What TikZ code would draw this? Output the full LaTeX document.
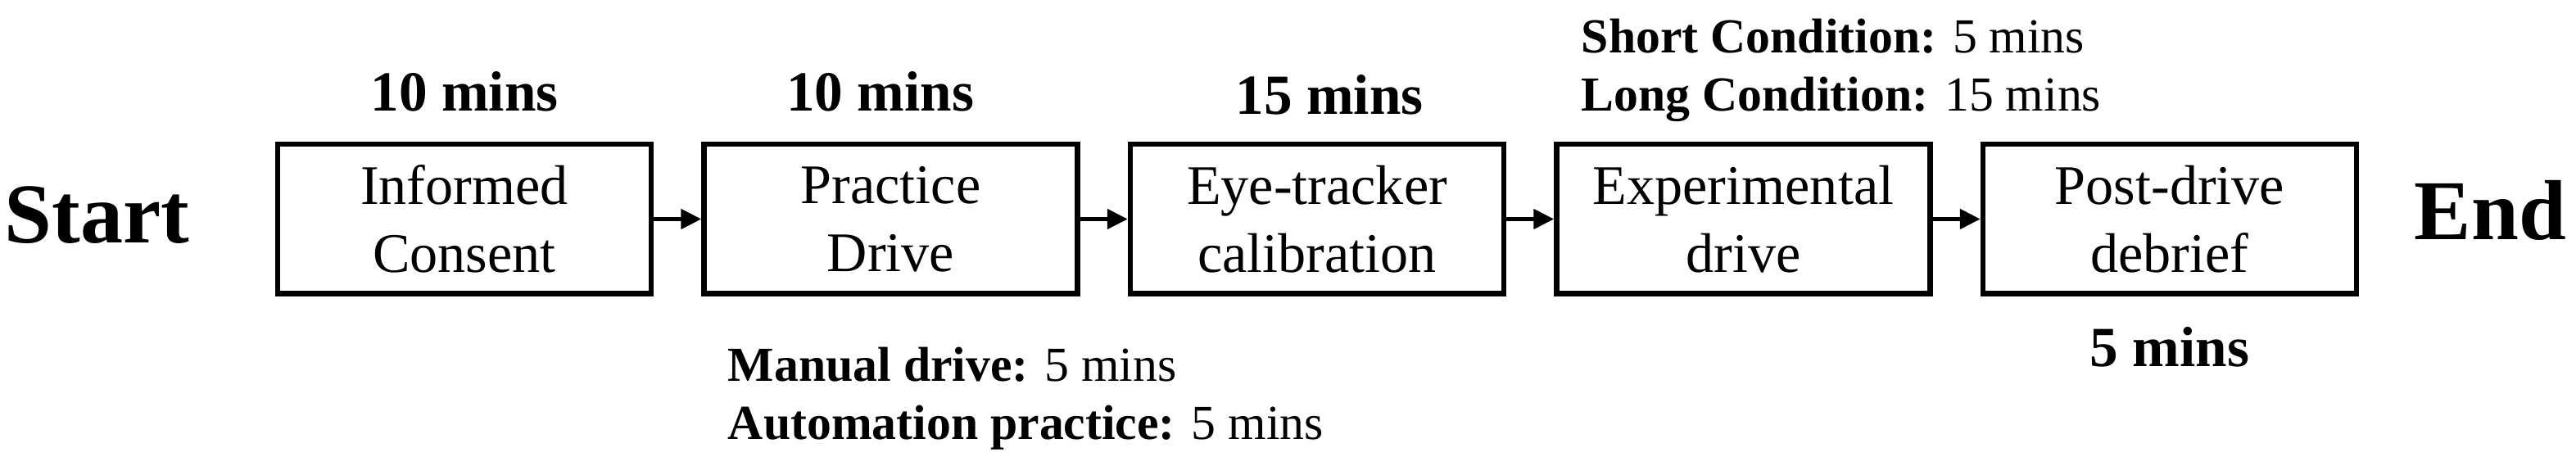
\documentclass[tikz,border=0pt]{standalone}
\usepackage{fontspec}
\setmainfont{Liberation Serif}
\usetikzlibrary{positioning,arrows.meta}
\tikzset{
	stage/.style={draw, line width=1.85pt, minimum width=4.56cm, minimum height=1.825cm, inner sep=0pt, align=center, font=\fontsize{19.4}{23.6}\selectfont},
	dur/.style={inner sep=0pt, anchor=base, font=\fontsize{19.7}{23.6}\selectfont\bfseries},
	note/.style={inner sep=0pt, anchor=north west, align=left, font=\fontsize{17}{20.2}\selectfont},
	term/.style={inner sep=0pt, font=\fontsize{29.6}{34}\selectfont\bfseries},
	flow/.style={-{Triangle[length=0.25cm,width=0.24cm]}, line width=1.4pt}
}
\begin{document}
\begin{tikzpicture}
	\useasboundingbox (0,0) rectangle (31.45,5.69);
	\node[stage] (consent) at (5.67,3.015) {Informed\\Consent};
	\node[stage, right=0.58cm of consent] (practice) {Practice\\Drive};
	\node[stage, right=0.58cm of practice] (calib) {Eye-tracker\\calibration};
	\node[stage, right=0.58cm of calib] (expdrive) {Experimental\\drive};
	\node[stage, right=0.58cm of expdrive] (debrief) {Post-drive\\debrief};
	\node[term, left=1.04cm of consent, yshift=0.05cm] (start) {Start};
	\node[term, right=0.67cm of debrief, yshift=0.11cm] (end) {End};
	\draw[flow] (consent) -- (practice);
	\draw[flow] (practice) -- (calib);
	\draw[flow] (calib) -- (expdrive);
	\draw[flow] (expdrive) -- (debrief);
	\node[dur] (tconsent) at ([yshift=0.37cm]consent.north) {10 mins};
	\node[dur] (tpractice) at ([xshift=-0.13cm,yshift=0.37cm]practice.north) {10 mins};
	\node[dur] (tcalib) at ([xshift=0.15cm,yshift=0.33cm]calib.north) {15 mins};
	\node[dur] (tdebrief) at ([yshift=-0.86cm]debrief.south) {5 mins};
	\node[note] (npractice) at ([xshift=0.32cm,yshift=-0.61cm]practice.south west) {\textbf{Manual drive:} 5 mins\\\textbf{Automation practice:} 5 mins};
	\node[note] (nexpdrive) at ([xshift=0.33cm,yshift=1.51cm]expdrive.north west) {\textbf{Short Condition:} 5 mins\\\textbf{Long Condition:} 15 mins};
\end{tikzpicture}
\end{document}
